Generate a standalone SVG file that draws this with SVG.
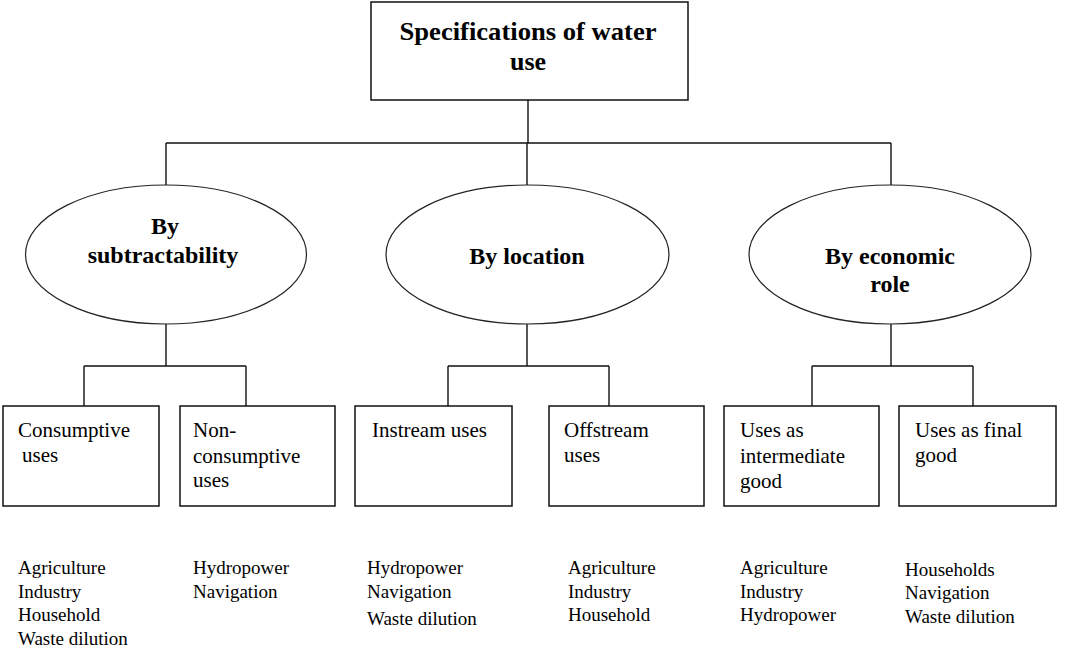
<svg xmlns="http://www.w3.org/2000/svg" width="1072" height="647" viewBox="0 0 1072 647">
<style>
.box{fill:#fff;stroke:#111;stroke-width:1.5}
.ell{fill:#fff;stroke:#222;stroke-width:1.2}
.con{fill:none;stroke:#111;stroke-width:1.4}
text{font-family:'Liberation Serif','DejaVu Serif',serif;fill:#000}
.title{font-size:26px;font-weight:bold;text-anchor:middle}
.et{font-size:24px;font-weight:bold;text-anchor:middle}
.bt{font-size:21px}
.lt{font-size:19px}
</style>
<rect width="1072" height="647" fill="#fff"/>
<g id="connectors">
<path class="con" d="M528 100V143M166 143H891M166 143V185M527 143V185M891 143V185"/>
<path class="con" d="M166 324V366M84 366H246M84 366V406M246 366V406"/>
<path class="con" d="M527 324V366M448 366H609M448 366V406M609 366V406"/>
<path class="con" d="M891 324V366M812 366H973M812 366V406M973 366V406"/>
</g>
<g id="root">
<rect class="box" x="371" y="2" width="317" height="98"/>
<text class="title" x="528" y="40" textLength="257" lengthAdjust="spacingAndGlyphs">Specifications of water</text>
<text class="title" x="528" y="70">use</text>
</g>
<g id="by-subtractability">
<ellipse class="ell" cx="166" cy="254.5" rx="140.5" ry="69.5"/>
<text class="et" x="165" y="234">By</text>
<text class="et" x="163" y="263">subtractability</text>
</g>
<g id="by-location">
<ellipse class="ell" cx="527.5" cy="254.5" rx="141.5" ry="69.5"/>
<text class="et" x="527" y="264">By location</text>
</g>
<g id="by-economic-role">
<ellipse class="ell" cx="890" cy="254.5" rx="141" ry="69.5"/>
<text class="et" x="890" y="264">By economic</text>
<text class="et" x="890" y="292">role</text>
</g>
<g id="consumptive">
<rect class="box" x="3" y="406" width="156" height="100"/>
<text class="bt" x="18" y="437">Consumptive</text>
<text class="bt" x="22" y="462">uses</text>
</g>
<g id="non-consumptive">
<rect class="box" x="180" y="406" width="155" height="100"/>
<text class="bt" x="193" y="437">Non-</text>
<text class="bt" x="193" y="463">consumptive</text>
<text class="bt" x="193" y="487">uses</text>
</g>
<g id="instream">
<rect class="box" x="355" y="406" width="157" height="100"/>
<text class="bt" x="372" y="437">Instream uses</text>
</g>
<g id="offstream">
<rect class="box" x="549" y="406" width="155" height="100"/>
<text class="bt" x="564" y="437">Offstream</text>
<text class="bt" x="564" y="462">uses</text>
</g>
<g id="intermediate">
<rect class="box" x="724" y="406" width="155" height="100"/>
<text class="bt" x="740" y="437">Uses as</text>
<text class="bt" x="740" y="463">intermediate</text>
<text class="bt" x="740" y="488">good</text>
</g>
<g id="final">
<rect class="box" x="899" y="406" width="157" height="100"/>
<text class="bt" x="915" y="437">Uses as final</text>
<text class="bt" x="915" y="462">good</text>
</g>
<g id="lists">
<text class="lt" x="18" y="574">Agriculture</text>
<text class="lt" x="18" y="598">Industry</text>
<text class="lt" x="18" y="621">Household</text>
<text class="lt" x="18" y="645">Waste dilution</text>
<text class="lt" x="193" y="574">Hydropower</text>
<text class="lt" x="193" y="598">Navigation</text>
<text class="lt" x="367" y="574">Hydropower</text>
<text class="lt" x="367" y="598">Navigation</text>
<text class="lt" x="367" y="625">Waste dilution</text>
<text class="lt" x="568" y="574">Agriculture</text>
<text class="lt" x="568" y="598">Industry</text>
<text class="lt" x="568" y="621">Household</text>
<text class="lt" x="740" y="574">Agriculture</text>
<text class="lt" x="740" y="598">Industry</text>
<text class="lt" x="740" y="621">Hydropower</text>
<text class="lt" x="905" y="576">Households</text>
<text class="lt" x="905" y="599">Navigation</text>
<text class="lt" x="905" y="623">Waste dilution</text>
</g>
</svg>
